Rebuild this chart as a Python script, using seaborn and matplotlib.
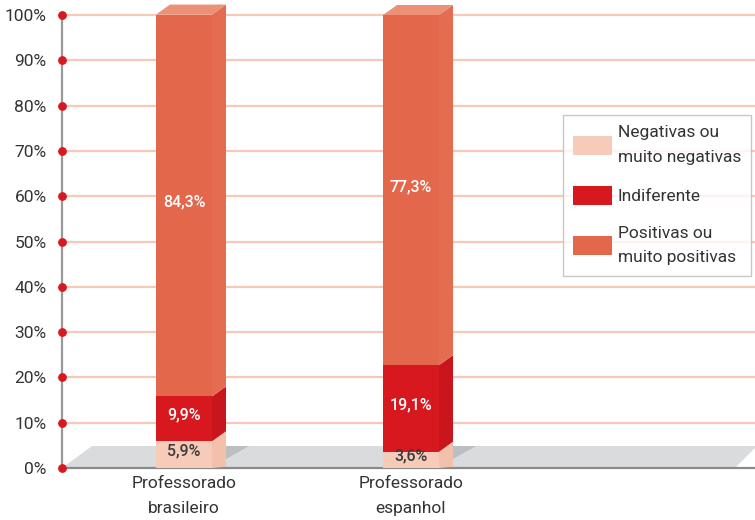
import matplotlib
matplotlib.use("Agg")
import matplotlib.pyplot as plt
from matplotlib.patches import Polygon, Patch
import numpy as np
import pandas as pd
import seaborn as sns

# Data
categories = ["Professorado\nbrasileiro", "Professorado\nespanhol"]
series_names = ["Negativas ou\nmuito negativas", "Indiferente", "Positivas ou\nmuito positivas"]
negativas = [5.9, 3.6]
indiferente = [9.9, 19.1]
positivas = [84.3, 77.3]
value_labels = [["5,9%", "3,6%"], ["9,9%", "19,1%"], ["84,3%", "77,3%"]]
ytick_values = [0, 10, 20, 30, 40, 50, 60, 70, 80, 90, 100]
ytick_labels = [f"{v}%" for v in ytick_values]

front_colors = ["#F7CBBA", "#D7181F", "#E2674B"]
side_colors = ["#F3C0AC", "#C9151C", "#E46C50"]
top_color = "#EC9176"
text_colors = ["#3a3a3a", "white", "white"]

sns.set_theme(style="white")
plt.rcParams["font.family"] = ["Roboto", "DejaVu Sans"]

W, H = 755, 520
fig = plt.figure(figsize=(W / 100, H / 100), dpi=100)
ax_left, ax_bottom, ax_top = 62, 468, 15
ax = fig.add_axes([ax_left / W, (H - ax_bottom) / H, (W - ax_left) / W, (ax_bottom - ax_top) / H])

# geometry helpers (pixel -> data)
px_per_cat = 227.0
c0_px = 184.0
px_per_pct = (ax_bottom - ax_top) / 100.0
x_lo = (ax_left - c0_px) / px_per_cat
x_hi = (W - c0_px) / px_per_cat
def dxp(p):
    return p / px_per_cat
def dyp(p):
    return p / px_per_pct

bar_w = dxp(56)
depth_x = dxp(14)
depth_y = dyp(10)

# stacked front faces via layered cumulative bars
df = pd.DataFrame({"cat": categories, "neg": negativas, "ind": indiferente, "pos": positivas})
df["c_ind"] = df["neg"] + df["ind"]
df["c_pos"] = df["c_ind"] + df["pos"]

# gridlines
for v in ytick_values[1:]:
    ax.plot([x_lo, x_hi], [v, v], color="#F6C9B7", lw=1.6, zorder=0.5, clip_on=False)

# floor
floor_h = dyp(22)
floor = Polygon([[x_lo, 0], [(735 - c0_px) / px_per_cat, 0],
                 [(757 - c0_px) / px_per_cat, floor_h], [(92 - c0_px) / px_per_cat, floor_h]],
                closed=True, facecolor="#DADBDD", edgecolor="none", zorder=1, clip_on=False)
ax.add_patch(floor)
ax.plot([x_lo, x_hi], [0, 0], color="#8a8a8a", lw=1.6, zorder=1.2, clip_on=False)

for col, color in zip(["c_pos", "c_ind", "neg"], [front_colors[2], front_colors[1], front_colors[0]]):
    sns.barplot(data=df, x="cat", y=col, color=color, width=bar_w, saturation=1,
                ax=ax, zorder=3, edgecolor="none", linewidth=0)

for i in range(len(categories)):
    x0 = i - bar_w / 2
    x1 = i + bar_w / 2
    # shadow on floor
    ax.add_patch(Polygon([[x1, 0.3], [x1, floor_h], [x1 + depth_x + dxp(23), floor_h]],
                         closed=True, facecolor="#BDBEC1", edgecolor="none", zorder=2))
    bounds = [0, negativas[i], negativas[i] + indiferente[i], negativas[i] + indiferente[i] + positivas[i]]
    for s in range(3):
        b, t = bounds[s], bounds[s + 1]
        bb = b + depth_y if s > 0 else 0.3
        ax.add_patch(Polygon([[x1, b], [x1 + depth_x, bb], [x1 + depth_x, t + depth_y], [x1, t]],
                             closed=True, facecolor=side_colors[s], edgecolor="none", zorder=3.5,
                             clip_on=False))
        ax.text(i, (b + t) / 2 + 0.8, value_labels[s][i], ha="center", va="center",
                fontsize=11.5, color=text_colors[s], zorder=5, fontweight="medium")
    top = bounds[-1]
    ax.add_patch(Polygon([[x0, top], [x0 + depth_x, top + depth_y], [x1 + depth_x, top + depth_y], [x1, top]],
                         closed=True, facecolor=top_color, edgecolor="none", zorder=3.5, clip_on=False))

# y axis with red dots
ax.plot([x_lo, x_lo], [0, 100], color="#999999", lw=1.6, zorder=4, clip_on=False)
ax.scatter([x_lo] * len(ytick_values), ytick_values, s=28, color="#D7181F", zorder=6, clip_on=False)

ax.set_xlim(x_lo, x_hi)
ax.set_ylim(0, 100)
ax.set_yticks(ytick_values)
ax.set_yticklabels(ytick_labels, fontsize=12.5, color="#333333")
ax.set_xticks(range(len(categories)))
ax.set_xticklabels(categories, fontsize=12.5, color="#333333", linespacing=1.8)
ax.tick_params(axis="both", length=0)
ax.tick_params(axis="y", pad=11)
ax.tick_params(axis="x", pad=6)
ax.set_xlabel("")
ax.set_ylabel("")
for sp in ax.spines.values():
    sp.set_visible(False)
ax.patch.set_alpha(0)

handles = [Patch(facecolor=c, edgecolor="none") for c in front_colors]
leg = fig.legend(handles, series_names, loc="upper left",
                 bbox_to_anchor=(563 / W, (H - 115) / H), frameon=True, fancybox=False,
                 fontsize=12.5, handlelength=2.2, handleheight=1.3, labelspacing=1.2,
                 borderpad=0.6, handletextpad=0.35, borderaxespad=0)
leg.get_frame().set_edgecolor("#BBBBBB")
leg.get_frame().set_linewidth(1.0)
for t in leg.get_texts():
    t.set_color("#333333")
    t.set_linespacing(1.8)

fig.savefig("out.png", dpi=100)
